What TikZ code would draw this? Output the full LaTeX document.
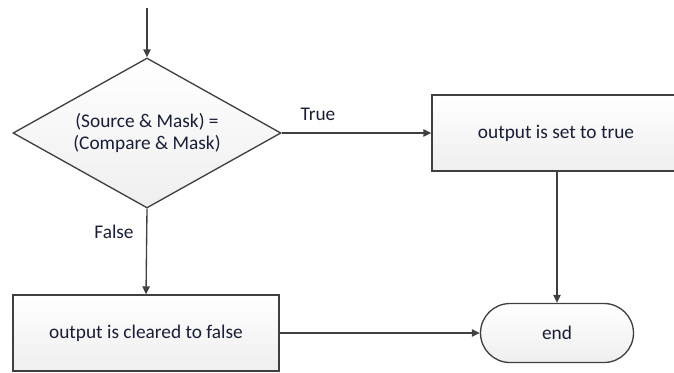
\documentclass[tikz,border=0pt]{standalone}
\usepackage{fontspec}
\setmainfont{Carlito}
\usetikzlibrary{shapes.geometric,shapes.misc,arrows.meta,calc}
\definecolor{linec}{RGB}{64,64,64}
\definecolor{txtc}{RGB}{24,30,56}
\tikzset{
  x=0.75pt, y=-0.75pt,
  every node/.style={font=\fontsize{14.5}{16}\selectfont, text=txtc},
  shapefill/.style={draw=linec, line width=1pt, top color=white, bottom color=gray!13},
  procbox/.style={shapefill, rectangle, minimum width=199.5pt, minimum height=57pt, inner sep=0pt},
  decision/.style={shapefill, diamond, shape aspect=1.787, minimum width=201pt, minimum height=112.5pt, inner sep=0pt, align=center},
  terminal/.style={shapefill, rounded rectangle, minimum width=114.75pt, minimum height=44.25pt, inner sep=0pt},
  flow/.style={draw=linec, line width=1pt, -{Triangle[length=6pt,width=5.5pt]}},
  lbl/.style={inner sep=0pt}
}
\begin{document}
\begin{tikzpicture}
\useasboundingbox (0,0) rectangle (674,372);
\node[decision] (dec) at (147,133) {(Source \& Mask) =\\(Compare \& Mask)};
\node[procbox, minimum width=186pt] (settrue) at (556,133) {output is set to true};
\node[procbox] (clear) at (146,333) {output is cleared to false};
\node[terminal] (end) at (557,333) {end};
\coordinate (start) at (147,8);
\draw[flow] (start) -- (dec.north);
\draw[flow] (dec.east) -- (settrue.west);
\draw[flow] (dec.south) -- (clear.north);
\draw[flow] (clear.east) -- (end.west);
\draw[flow] (settrue.south -| end.north) -- (end.north);
\node[lbl] (truelbl) at (318,114) {True};
\node[lbl] (falselbl) at (114,232) {False};
\end{tikzpicture}
\end{document}
